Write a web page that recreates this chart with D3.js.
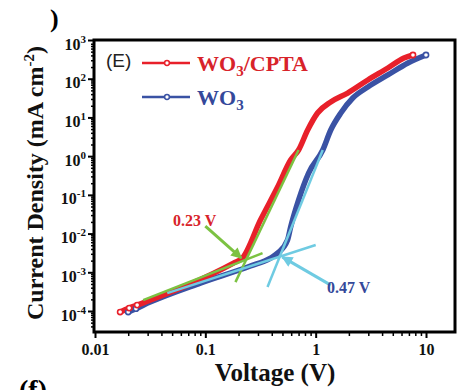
<!DOCTYPE html>
<html>
<head>
<meta charset="utf-8">
<script src="https://cdn.jsdelivr.net/npm/d3@7"></script>
<style>
  body { margin: 0; background: #fff; }
  svg { display: block; }
  .serif { font-family: "Liberation Serif", "Times New Roman", serif; font-weight: bold; }
</style>
</head>
<body>
<div id="chart"></div>
<script>
// WO3/CPTA (red) J-V on log-log
const cptaV = [0.0169, 0.0204, 0.0241, 0.063, 0.18, 0.217, 0.316, 0.452, 0.593, 0.70, 0.846, 1.04, 1.37, 1.95, 2.97, 4.51, 6.31, 7.62];
const cptaJ = [9.4e-5, 1.19e-4, 1.42e-4, 4.15e-4, 1.73e-3, 2.33e-3, 0.0223, 0.159, 0.793, 1.44, 4.73, 13, 25, 42.7, 92.5, 189, 343, 410];
// WO3 (blue)
const wo3V = [0.020, 0.0235, 0.0316, 0.09, 0.256, 0.39, 0.452, 0.556, 0.593, 0.70, 0.863, 1.16, 1.37, 1.69, 2.17, 2.97, 4.51, 6.86, 10];
const wo3J = [9.4e-5, 1.15e-4, 1.70e-4, 5.26e-4, 1.45e-3, 2.33e-3, 3.13e-3, 6.8e-3, 0.0147, 0.0734, 0.366, 1.44, 4.73, 13, 31.7, 61, 125, 255, 410];

// tangent lines and arrows (V, J)
const greenLow = [[0.0273, 1.91e-4], [0.33, 3.13e-3]];
const greenSteep = [[0.1875, 5.58e-4], [0.70, 1.44]];
const greenArrow = [[0.10, 0.0156], [0.212, 2.33e-3]];
const cyanLow = [[0.0452, 2.9e-4], [1.0, 5.05e-3]];
const cyanSteep = [[0.366, 4.15e-4], [1.16, 1.44]];
const cyanArrow = [[1.37, 4.67e-4], [0.5, 2.47e-3]];

const xTicks = [0.01, 0.1, 1, 10];
const xTickLabels = ["0.01", "0.1", "1", "10"];
const yTicks = [1e-4, 1e-3, 1e-2, 1e-1, 1e0, 1e1, 1e2, 1e3];
const yTickExp = ["-4", "-3", "-2", "-1", "0", "1", "2", "3"];

const seriesNames = ["WO", "/CPTA"];
const kneeLabels = ["0.23 V", "0.47 V"];

const W = 465, H = 390;
const RED = "#e8202a", BLUE = "#3a52a4", GREEN = "#7cc242", CYAN = "#6fcbe2";

const svg = d3.select("#chart").append("svg")
    .attr("width", W).attr("height", H);

const x = d3.scaleLog().domain([0.01, 10]).range([95, 426]);
const y = d3.scaleLog().domain([1e-4, 1e3]).range([311, 40]);
const frame = { left: 94, right: 455, top: 40, bottom: 332 };

// stray panel letters from the source figure
svg.append("text").attr("class", "serif").attr("x", 50).attr("y", 27)
    .attr("font-size", 26).attr("font-weight", "normal").text(")");
svg.append("text").attr("class", "serif").attr("x", 19).attr("y", 399)
    .attr("font-size", 28).text("(f)");

// axes: minor ticks
const minorX = [];
[0.01, 0.1, 1, 10].forEach(d => { for (let k = 2; k <= 9; k++) minorX.push(d * k); });
const minorY = [];
[1e-5, 1e-4, 1e-3, 1e-2, 1e-1, 1, 10, 100].forEach(d => { for (let k = 2; k <= 9; k++) minorY.push(d * k); });

svg.append("g").attr("transform", `translate(0,${frame.bottom})`)
    .call(d3.axisBottom(x).tickValues(minorX.filter(v => x(v) < frame.right - 2)).tickSize(4).tickFormat(""))
    .call(g => g.select(".domain").remove())
    .selectAll("line").attr("stroke-width", 1.5);

svg.append("g").attr("transform", `translate(${frame.left},0)`)
    .call(d3.axisLeft(y).tickValues(minorY.filter(v => y(v) < frame.bottom - 2 && y(v) > frame.top + 2)).tickSize(3).tickFormat(""))
    .call(g => g.select(".domain").remove())
    .selectAll("line").attr("stroke-width", 1.5);

// major ticks with labels
const xAxis = svg.append("g").attr("transform", `translate(0,${frame.bottom})`)
    .call(d3.axisBottom(x).tickValues(xTicks).tickSize(6).tickPadding(6)
        .tickFormat((d, i) => xTickLabels[i]));
xAxis.select(".domain").remove();
xAxis.selectAll("line").attr("stroke-width", 2);
xAxis.selectAll("text").attr("class", "serif").attr("font-size", 16).attr("fill", "#111");

const yAxis = svg.append("g").attr("transform", `translate(${frame.left},0)`)
    .call(d3.axisLeft(y).tickValues(yTicks).tickSize(6).tickPadding(3).tickFormat(""));
yAxis.select(".domain").remove();
yAxis.selectAll("line").attr("stroke-width", 2);
yAxis.selectAll(".tick").each(function(d, i) {
  const t = d3.select(this).append("text")
      .attr("class", "serif").attr("font-size", 16).attr("fill", "#111")
      .attr("x", -8).attr("y", 9).attr("text-anchor", "end");
  t.append("tspan").text("10");
  t.append("tspan").attr("font-size", 11).attr("dy", -7).text(yTickExp[i]);
});

// plot frame
svg.append("rect")
    .attr("x", frame.left).attr("y", frame.top)
    .attr("width", frame.right - frame.left).attr("height", frame.bottom - frame.top)
    .attr("fill", "none").attr("stroke", "#000").attr("stroke-width", 3);

// axis titles
const yTitle = svg.append("text").attr("class", "serif").attr("font-size", 24)
    .attr("text-anchor", "middle").attr("fill", "#111")
    .attr("transform", "translate(43,183) rotate(-90)");
yTitle.append("tspan").text("Current Density (mA cm");
yTitle.append("tspan").attr("font-size", 15).attr("dy", -9).text("-2");
yTitle.append("tspan").attr("dy", 9).text(")");

svg.append("text").attr("class", "serif").attr("font-size", 25).attr("fill", "#111")
    .attr("text-anchor", "middle").attr("x", 275).attr("y", 381).text("Voltage (V)");

// curves
const line = d3.line().x(d => x(d[0])).y(d => y(d[1])).curve(d3.curveMonotoneX);
const cpta = cptaV.map((v, i) => [v, cptaJ[i]]);
const wo3 = wo3V.map((v, i) => [v, wo3J[i]]);

svg.append("path").datum(wo3).attr("d", line)
    .attr("fill", "none").attr("stroke", BLUE).attr("stroke-width", 5.5)
    .attr("stroke-linecap", "round").attr("stroke-linejoin", "round");
svg.append("path").datum(cpta).attr("d", line)
    .attr("fill", "none").attr("stroke", RED).attr("stroke-width", 5.5)
    .attr("stroke-linecap", "round").attr("stroke-linejoin", "round");

// open markers at the sparse low-voltage end and the last point
function markers(data, color, n) {
  const pts = data.slice(0, n).concat([data[data.length - 1]]);
  svg.append("g").selectAll("circle").data(pts).join("circle")
      .attr("cx", d => x(d[0])).attr("cy", d => y(d[1])).attr("r", 2.6)
      .attr("fill", "#fff").attr("stroke", color).attr("stroke-width", 1.6);
}
markers(wo3, BLUE, 2);
markers(cpta, RED, 3);

// tangent lines
const straight = d3.line().x(d => x(d[0])).y(d => y(d[1]));
[[greenLow, GREEN], [greenSteep, GREEN], [cyanLow, CYAN], [cyanSteep, CYAN]].forEach(([d, c]) => {
  svg.append("path").datum(d).attr("d", straight)
      .attr("stroke", c).attr("stroke-width", 2.5).attr("fill", "none");
});

// arrows
const defs = svg.append("defs");
[["ag", GREEN], ["ac", CYAN]].forEach(([id, c]) => {
  defs.append("marker").attr("id", id)
      .attr("viewBox", "0 0 10 10").attr("refX", 9).attr("refY", 5)
      .attr("markerUnits", "userSpaceOnUse").attr("markerWidth", 12).attr("markerHeight", 11)
      .attr("orient", "auto")
    .append("path").attr("d", "M0,0 L10,5 L0,10 z").attr("fill", c);
});
svg.append("path").datum(greenArrow).attr("d", straight)
    .attr("stroke", GREEN).attr("stroke-width", 3).attr("marker-end", "url(#ag)");
svg.append("path").datum(cyanArrow).attr("d", straight)
    .attr("stroke", CYAN).attr("stroke-width", 3).attr("marker-end", "url(#ac)");

// knee labels
svg.append("text").attr("class", "serif").attr("font-size", 16).attr("fill", "#d8232a")
    .attr("x", 173).attr("y", 226).text(kneeLabels[0]);
svg.append("text").attr("class", "serif").attr("font-size", 16).attr("fill", "#34489a")
    .attr("x", 327).attr("y", 293).text(kneeLabels[1]);

// legend
svg.append("text").attr("x", 106).attr("y", 67)
    .attr("font-family", "Liberation Sans, Arial, sans-serif").attr("font-size", 19)
    .attr("fill", "#222").text("(E)");
[[RED, "#d8232a", 63, true], [BLUE, "#34489a", 97, false]].forEach(([c, tc, ly, cp]) => {
  svg.append("line").attr("x1", 142).attr("x2", 190).attr("y1", ly).attr("y2", ly)
      .attr("stroke", c).attr("stroke-width", 2.5);
  svg.append("circle").attr("cx", 167).attr("cy", ly).attr("r", 2.4)
      .attr("fill", "#fff").attr("stroke", c).attr("stroke-width", 1.5);
  const t = svg.append("text").attr("class", "serif").attr("font-size", 22).attr("fill", tc)
      .attr("x", 197).attr("y", ly + 8);
  t.append("tspan").text(seriesNames[0]);
  t.append("tspan").attr("font-size", 15).attr("dy", 5).text("3");
  if (cp) t.append("tspan").attr("dy", -5).text(seriesNames[1]);
});
</script>
</body>
</html>
